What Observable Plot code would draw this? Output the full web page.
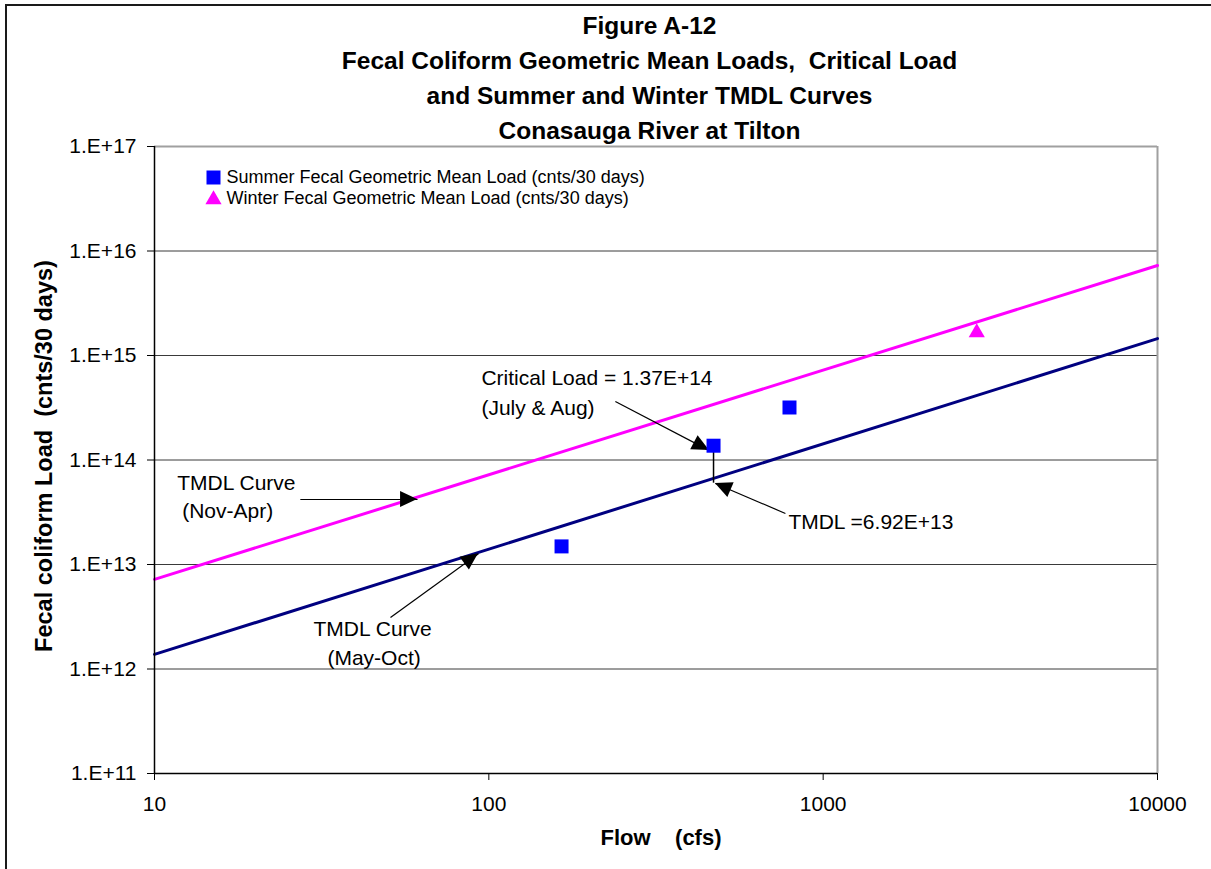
<!DOCTYPE html>
<html><head><meta charset="utf-8">
<script src="https://cdn.jsdelivr.net/npm/d3@7"></script>
<script src="https://cdn.jsdelivr.net/npm/@observablehq/plot@0.6"></script>
<style>
body{margin:0;background:#fff;font-family:"Liberation Sans",Arial,sans-serif;}
#wrap{position:relative;width:1211px;height:869px;overflow:hidden;background:#fff;}
#border{position:absolute;left:5px;top:4px;width:1220px;height:900px;border-left:2px solid #1a1a1a;border-top:2px solid #1a1a1a;pointer-events:none;}
#title{height:136px;box-sizing:border-box;padding-top:8px;padding-left:88px;text-align:center;font-weight:bold;font-size:24.5px;line-height:35px;color:#000;}
svg text{white-space:pre;}
</style></head><body>
<div id="wrap"><div id="title"></div><div id="chart"></div><div id="border"></div></div>
<script>
// ---- data ----
const titleLines = ["Figure A-12", "Fecal Coliform Geometric Mean Loads,  Critical Load", "and Summer and Winter TMDL Curves", "Conasauga River at Tilton"];
const summerFlow = [165, 470, 793];
const summerLoad = [1.49e13, 1.37e14, 3.18e14];
const winterFlow = [2880];
const winterLoad = [1.66e15];
const curveFlow = [10, 10000];
const summerCurve = [1.38e12, 1.45e15];
const winterCurve = [7.2e12, 7.27e15];
const xTicks = [10, 100, 1000, 10000];
const yTicks = [1e11, 1e12, 1e13, 1e14, 1e15, 1e16, 1e17];
const gridLoads = [1e12, 1e13, 1e14, 1e15, 1e16];
const legendLabels = ["Summer Fecal Geometric Mean Load (cnts/30 days)", "Winter Fecal Geometric Mean Load (cnts/30 days)"];
const criticalFlow = 470;
const criticalLoad = 1.37e14;
const tmdlMarkLoad = 6.0e13;
const noteText = ["Critical Load = 1.37E+14", "(July & Aug)", "TMDL =6.92E+13", "TMDL Curve", "(Nov-Apr)", "TMDL Curve", "(May-Oct)"];
const noteFlow = [95, 95, 787, 11.7, 12.1, 29.9, 32.9];
const noteLoad = [6.03e14, 3.11e14, 2.52e13, 5.96e13, 3.21e13, 2.39e12, 1.26e12];
const arrowTailFlow = [239, 771, 27.3, 50.8];
const arrowTailLoad = [3.63e14, 3.08e13, 4.19e13, 3.11e12];
const arrowTipFlow = [457, 476, 61.2, 93.1];
const arrowTipLoad = [1.23e14, 5.96e13, 4.19e13, 1.27e13];
const xLabel = "Flow    (cfs)";
const yLabel = "Fecal coliform Load  (cnts/30 days)";

// ---- tables ----
document.getElementById("title").innerHTML = titleLines.map(t => `<div>${t.replace(/  /g, " &nbsp;")}</div>`).join("");
const summerPts = summerFlow.map((f, i) => ({flow: f, load: summerLoad[i]}));
const winterPts = winterFlow.map((f, i) => ({flow: f, load: winterLoad[i]}));
const summerLine = curveFlow.map((f, i) => ({flow: f, load: summerCurve[i]}));
const winterLine = curveFlow.map((f, i) => ({flow: f, load: winterCurve[i]}));
const notes = noteText.map((t, i) => ({text: t, flow: noteFlow[i], load: noteLoad[i]}));
const arrows = arrowTailFlow.map((f, i) => ({x1: f, y1: arrowTailLoad[i], x2: arrowTipFlow[i], y2: arrowTipLoad[i]}));

const arrowHeads = (index, scales) => {
  const g = d3.create("svg:g");
  for (const a of arrows) {
    const x1 = scales.x(a.x1), y1 = scales.y(a.y1), x2 = scales.x(a.x2), y2 = scales.y(a.y2);
    const ang = Math.atan2(y2 - y1, x2 - x1);
    const L = 17, W = 8;
    const c = Math.cos(ang), s = Math.sin(ang);
    const bx = x2 - L * c, by = y2 - L * s;
    g.append("path")
      .attr("d", `M${x2},${y2}L${bx - W * s},${by + W * c}L${bx + W * s},${by - W * c}Z`)
      .attr("fill", "black");
  }
  return g.node();
};

const chart = Plot.plot({
  width: 1211, height: 733,
  marginLeft: 154, marginRight: 54, marginTop: 10, marginBottom: 96,
  style: {fontFamily: "'Liberation Sans', Arial, sans-serif", fontSize: "21px", color: "black", background: "transparent", overflow: "visible"},
  x: {type: "log", domain: [10, 10000], ticks: xTicks, tickFormat: d => String(d), tickSize: 7, tickPadding: 16, label: null},
  y: {type: "log", domain: [1e11, 1e17], ticks: yTicks, tickFormat: d => "1.E+" + Math.round(Math.log10(d)), tickSize: 7, tickPadding: 11, label: null},
  marks: [
    Plot.ruleY(gridLoads, {stroke: "#3a3a3a", strokeWidth: 1}),
    Plot.ruleY([1e17], {stroke: "#a0a0a0", strokeWidth: 2}),
    Plot.ruleX([10000], {stroke: "#a0a0a0", strokeWidth: 2}),
    Plot.line(winterLine, {x: "flow", y: "load", stroke: "#ff00ff", strokeWidth: 3}),
    Plot.line(summerLine, {x: "flow", y: "load", stroke: "#000080", strokeWidth: 3}),
    Plot.ruleX([10], {stroke: "black", strokeWidth: 1.5}),
    Plot.ruleY([1e11], {stroke: "black", strokeWidth: 1.5}),
    Plot.ruleX([criticalFlow], {y1: criticalLoad, y2: tmdlMarkLoad, stroke: "black", strokeWidth: 1.5}),
    Plot.link(arrows, {x1: "x1", y1: "y1", x2: "x2", y2: "y2", stroke: "black", strokeWidth: 1.2}),
    arrowHeads,
    Plot.dot(summerPts, {x: "flow", y: "load", symbol: "square", fill: "#0000ff", r: 7.9}),
    Plot.dot(winterPts, {x: "flow", y: "load", symbol: "triangle", fill: "#ff00ff", r: 6}),
    Plot.text(notes, {x: "flow", y: "load", text: "text", textAnchor: "start", fontSize: 21, fill: "black"}),
    Plot.dot([legendLabels[0]], {frameAnchor: "top-left", dx: 59, dy: 31, symbol: "square", fill: "#0000ff", r: 7.9}),
    Plot.dot([legendLabels[1]], {frameAnchor: "top-left", dx: 59, dy: 53, symbol: "triangle", fill: "#ff00ff", r: 6}),
    Plot.text([legendLabels[0]], {frameAnchor: "top-left", dx: 72, dy: 31, text: d => d, textAnchor: "start", lineAnchor: "middle", fontSize: 18}),
    Plot.text([legendLabels[1]], {frameAnchor: "top-left", dx: 72, dy: 52, text: d => d, textAnchor: "start", lineAnchor: "middle", fontSize: 18}),
    Plot.text([xLabel], {frameAnchor: "bottom", dx: 5, dy: 64, text: d => d, textAnchor: "middle", lineAnchor: "middle", fontWeight: "bold", fontSize: 22}),
    Plot.text([yLabel], {frameAnchor: "left", dx: -110, dy: -4, rotate: -90, text: d => d, textAnchor: "middle", lineAnchor: "middle", fontWeight: "bold", fontSize: 23.5})
  ]
});
document.getElementById("chart").appendChild(chart);
</script>
</body></html>
